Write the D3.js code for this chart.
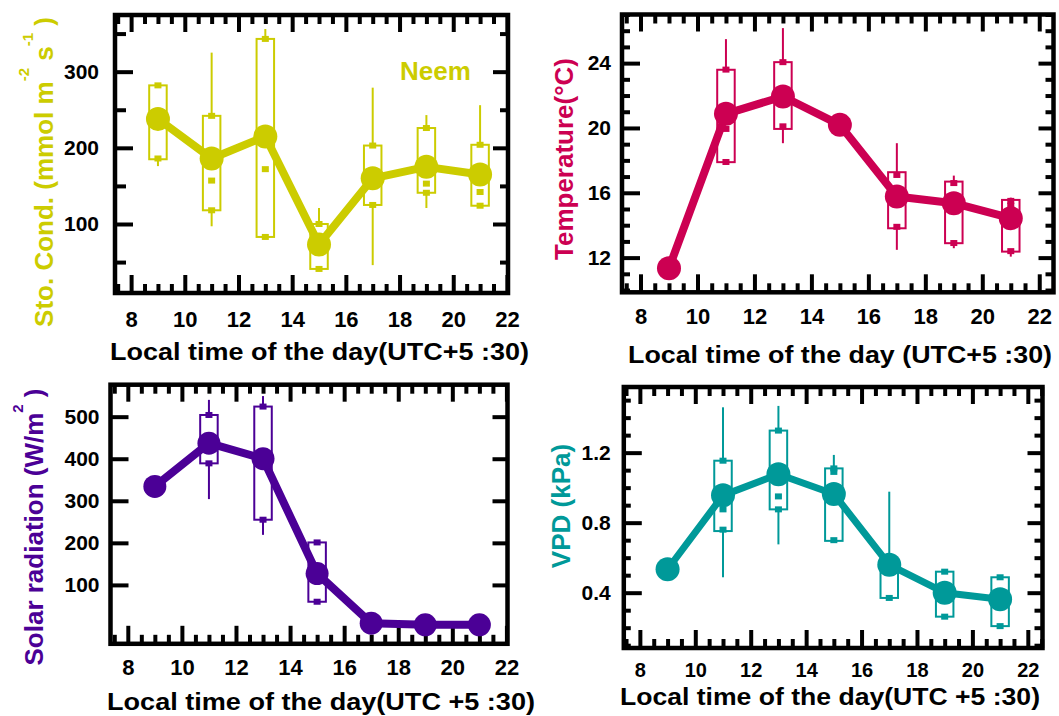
<!DOCTYPE html>
<html><head><meta charset="utf-8">
<script src="https://cdn.jsdelivr.net/npm/d3@7"></script>
<style>
body{margin:0;background:#fff}
svg{display:block}
text{font-family:"Liberation Sans",Arial,sans-serif;font-weight:bold}
</style>
</head><body>
<svg id="c" width="1059" height="716"></svg>
<script>
// ---------- data ----------
const hours = [9, 11, 13, 15, 17, 19, 21];
const xTickLabels = [8, 10, 12, 14, 16, 18, 20, 22];

// Stomatal conductance (Neem)
const condMean      = [238, 186, 215, 73, 160, 175, 165];
const condBoxLow    = [185, 118, 83, 41, 125, 141, 124];
const condBoxHigh   = [282, 242, 343, 100, 203, 226, 204];
const condWhiskLow  = [176, 97, 80, 40, 46, 121, 124];
const condWhiskHigh = [282, 325, 356, 121, 279, 243, 256];
const condMarks     = [[282, 186], [242, 157, 118], [343, 172, 83], [100, 41], [203, 125], [226, 153, 141], [204, 142, 124]];
const condTicks = [100, 200, 300];
const condMinor = [50, 150, 250, 350];

// Temperature
const tempMean      = [11.35, 20.87, 21.94, 20.19, 15.77, 15.36, 14.43];
const tempBoxLow    = [null, 17.89, 19.94, null, 13.81, 12.89, 12.37];
const tempBoxHigh   = [null, 23.59, 24.06, null, 17.27, 16.69, 15.56];
const tempWhiskLow  = [null, 17.89, 19.06, null, 12.48, 12.58, 12.06];
const tempWhiskHigh = [null, 25.48, 26.16, null, 19.06, 17.06, 15.7];
const tempMarks     = [[], [23.6, 19.94, 17.9], [24.06, 20.1], [], [17.1, 13.9], [16.6, 12.9], [15.5, 15.2, 12.4]];
const tempTicks = [12, 16, 20, 24];
const tempMinor = [10, 11, 13, 14, 15, 17, 18, 19, 21, 22, 23, 25, 26, 27];

// Solar radiation
const solarMean      = [334, 437, 400, 127, 9, 5, 5];
const solarBoxLow    = [null, 389, 255, 60, null, null, null];
const solarBoxHigh   = [null, 504, 524, 201, null, null, null];
const solarWhiskLow  = [null, 304, 219, 60, null, null, null];
const solarWhiskHigh = [null, 540, 549, 201, null, null, null];
const solarMarks     = [[], [504, 389], [524, 255], [201, 60], [], [], []];
const solarTicks = [100, 200, 300, 400, 500];
const solarMinor = [];

// VPD
const vpdMean      = [0.534, 0.956, 1.077, 0.964, 0.559, 0.40, 0.362];
const vpdBoxLow    = [null, 0.752, 0.876, 0.696, 0.37, 0.263, 0.209];
const vpdBoxHigh   = [null, 1.154, 1.326, 1.11, 0.578, 0.52, 0.488];
const vpdWhiskLow  = [null, 0.488, 0.676, 0.696, 0.36, 0.25, 0.20];
const vpdWhiskHigh = [null, 1.459, 1.467, 1.187, 0.977, 0.52, 0.488];
const vpdMarks     = [[], [1.154, 0.876, 0.76], [1.326, 0.95, 0.876], [1.11, 1.09, 0.70], [0.37], [0.52, 0.263], [0.488, 0.209]];
const vpdTicks = [0.4, 0.8, 1.2];
const vpdMinor = [0.1, 0.2, 0.3, 0.5, 0.6, 0.7, 0.9, 1.0, 1.1, 1.3, 1.4, 1.5];

// ---------- drawing ----------
const svg = d3.select("#c");

function panel(c) {
  const f = c.frame;
  const x = d3.scaleLinear().domain(c.xDom).range([f.l, f.r]);
  const y = d3.scaleLinear().domain(c.yDom).range([f.b, f.t]);
  const g = svg.append("g");

  const xMinor = d3.range(7.5, 22.51, 0.5).filter(v => !xTickLabels.includes(v) && v > c.xDom[0] && v < c.xDom[1]);

  function styleAxis(sel) {
    sel.select(".domain").remove();
    sel.selectAll("line").attr("stroke", "#000").attr("stroke-width", 4);
    sel.selectAll("text").attr("fill", "#000");
  }
  // bottom
  g.append("g").attr("transform", `translate(0,${f.b})`)
    .call(d3.axisBottom(x).tickValues(xTickLabels).tickSize(-18).tickPadding(c.xPad).tickFormat(d3.format("d")))
    .call(styleAxis).selectAll("text").attr("font-size", c.xFont);
  g.append("g").attr("transform", `translate(0,${f.b})`)
    .call(d3.axisBottom(x).tickValues(xMinor).tickSize(-9).tickFormat(""))
    .call(styleAxis);
  // top
  g.append("g").attr("transform", `translate(0,${f.t})`)
    .call(d3.axisTop(x).tickValues(xTickLabels).tickSize(-17).tickFormat(""))
    .call(styleAxis);
  g.append("g").attr("transform", `translate(0,${f.t})`)
    .call(d3.axisTop(x).tickValues(xMinor).tickSize(-9).tickFormat(""))
    .call(styleAxis);
  // left
  g.append("g").attr("transform", `translate(${f.l},0)`)
    .call(d3.axisLeft(y).tickValues(c.yTicks).tickSize(-18).tickPadding(c.yPad).tickFormat(c.yFmt))
    .call(styleAxis).selectAll("text").attr("font-size", 21);
  g.append("g").attr("transform", `translate(${f.l},0)`)
    .call(d3.axisLeft(y).tickValues(c.yMinor).tickSize(-c.yMinorLen).tickFormat(""))
    .call(styleAxis);
  // right
  g.append("g").attr("transform", `translate(${f.r},0)`)
    .call(d3.axisRight(y).tickValues(c.yTicks).tickSize(-15).tickFormat(""))
    .call(styleAxis);
  g.append("g").attr("transform", `translate(${f.r},0)`)
    .call(d3.axisRight(y).tickValues(c.yMinor).tickSize(-8).tickFormat(""))
    .call(styleAxis);

  // frame
  g.append("rect").attr("x", f.l).attr("y", f.t).attr("width", f.r - f.l).attr("height", f.b - f.t)
    .attr("fill", "none").attr("stroke", "#000").attr("stroke-width", 4.5);

  // boxes
  const bw = 17.5;
  hours.forEach((h, i) => {
    if (c.boxLow[i] == null) return;
    const cx = x(h);
    const bg = g.append("g").attr("stroke", c.color).attr("fill", "none").attr("stroke-width", 2);
    bg.append("line").attr("x1", cx).attr("x2", cx).attr("y1", y(c.whiskHigh[i])).attr("y2", y(c.boxHigh[i]));
    bg.append("line").attr("x1", cx).attr("x2", cx).attr("y1", y(c.boxLow[i])).attr("y2", y(c.whiskLow[i]));
    bg.append("rect").attr("x", cx - bw / 2).attr("width", bw)
      .attr("y", y(c.boxHigh[i])).attr("height", y(c.boxLow[i]) - y(c.boxHigh[i]));
    c.marks[i].forEach(m => {
      g.append("rect").attr("x", cx - 3.5).attr("y", y(m) - 3).attr("width", 7).attr("height", 6)
        .attr("fill", c.color);
    });
  });

  // mean line and points
  const line = d3.line().x((d, i) => x(hours[i])).y(d => y(d));
  g.append("path").datum(c.mean).attr("d", line).attr("fill", "none")
    .attr("stroke", c.color).attr("stroke-width", c.lw).attr("stroke-linejoin", "round");
  g.selectAll(null).data(c.mean).enter().append("circle")
    .attr("cx", (d, i) => x(hours[i])).attr("cy", d => y(d)).attr("r", c.r).attr("fill", c.color);

  // x title
  g.append("text").attr("x", c.xt.x0).attr("y", c.xt.y)
    .attr("font-size", 23).attr("fill", "#000")
    .attr("textLength", c.xt.x1 - c.xt.x0).attr("lengthAdjust", "spacingAndGlyphs")
    .text(c.xTitle);

  // y title
  const yt = g.append("text")
    .attr("transform", `translate(${c.yt.x},${c.yt.y}) rotate(-90)`)
    .attr("text-anchor", "middle").attr("font-size", 26).attr("fill", c.color);
  c.yTitle.forEach(p => {
    const ts = yt.append("tspan").text(p.t);
    if (p.dy) ts.attr("dy", p.dy);
    if (p.fs) ts.attr("font-size", p.fs);
  });
  return {g, x, y};
}

const COND = "#cccc00", TEMP = "#cc0052", SOLAR = "#4b0096", VPD = "#009999";

const p1 = panel({
  frame: {l: 115, r: 508, t: 15, b: 293}, xDom: [7.4, 22.04], yDom: [9.4, 374.4],
  color: COND, mean: condMean, boxLow: condBoxLow, boxHigh: condBoxHigh,
  whiskLow: condWhiskLow, whiskHigh: condWhiskHigh, marks: condMarks,
  yTicks: condTicks, yMinor: condMinor, yMinorLen: 11, yFmt: d3.format("d"),
  xPad: 18, yPad: 16, xFont: 22, lw: 8, r: 12,
  xTitle: "Local time of the day(UTC+5 :30)", xt: {x0: 110, x1: 529, y: 360},
  yTitle: [{t: "Sto. Cond. (mmol m"}, {t: "-2", dy: -24, fs: 15}, {t: " s", dy: 24}, {t: "-1", dy: -20, fs: 15}, {t: " )", dy: 20}],
  yt: {x: 53, y: 172}
});
p1.g.append("text").attr("x", 400).attr("y", 80).attr("font-size", 26).attr("fill", COND).text("Neem");

panel({
  frame: {l: 622, r: 1053.5, t: 14.5, b: 292.3}, xDom: [7.35, 22.5], yDom: [9.86, 27.0],
  color: TEMP, mean: tempMean, boxLow: tempBoxLow, boxHigh: tempBoxHigh,
  whiskLow: tempWhiskLow, whiskHigh: tempWhiskHigh, marks: tempMarks,
  yTicks: tempTicks, yMinor: tempMinor, yMinorLen: 8, yFmt: d3.format("d"),
  xPad: 16, yPad: 11, xFont: 22, lw: 8, r: 12,
  xTitle: "Local time of the day (UTC+5 :30)", xt: {x0: 628, x1: 1052, y: 363},
  yTitle: [{t: "Temperature(°C)"}],
  yt: {x: 573, y: 159}
});

panel({
  frame: {l: 110.5, r: 507.5, t: 384.7, b: 643.8}, xDom: [7.36, 22.04], yDom: [-40, 576],
  color: SOLAR, mean: solarMean, boxLow: solarBoxLow, boxHigh: solarBoxHigh,
  whiskLow: solarWhiskLow, whiskHigh: solarWhiskHigh, marks: solarMarks,
  yTicks: solarTicks, yMinor: solarMinor, yMinorLen: 8, yFmt: d3.format("d"),
  xPad: 16, yPad: 11, xFont: 22, lw: 8, r: 11.5,
  xTitle: "Local time of the day(UTC +5 :30)", xt: {x0: 107, x1: 535, y: 710},
  yTitle: [{t: "Solar radiation (W/m"}, {t: "2", dy: -20, fs: 15}, {t: " )", dy: 20}],
  yt: {x: 43, y: 527}
});

panel({
  frame: {l: 623.8, r: 1042.5, t: 387, b: 648}, xDom: [7.42, 22.53], yDom: [0.084, 1.575],
  color: VPD, mean: vpdMean, boxLow: vpdBoxLow, boxHigh: vpdBoxHigh,
  whiskLow: vpdWhiskLow, whiskHigh: vpdWhiskHigh, marks: vpdMarks,
  yTicks: vpdTicks, yMinor: vpdMinor, yMinorLen: 7, yFmt: d3.format(".1f"),
  xPad: 15, yPad: 13, xFont: 20, lw: 7, r: 12,
  xTitle: "Local time of the day(UTC +5 :30)", xt: {x0: 620, x1: 1040, y: 705},
  yTitle: [{t: "VPD (kPa)"}],
  yt: {x: 570, y: 506}
});
</script>
</body></html>
